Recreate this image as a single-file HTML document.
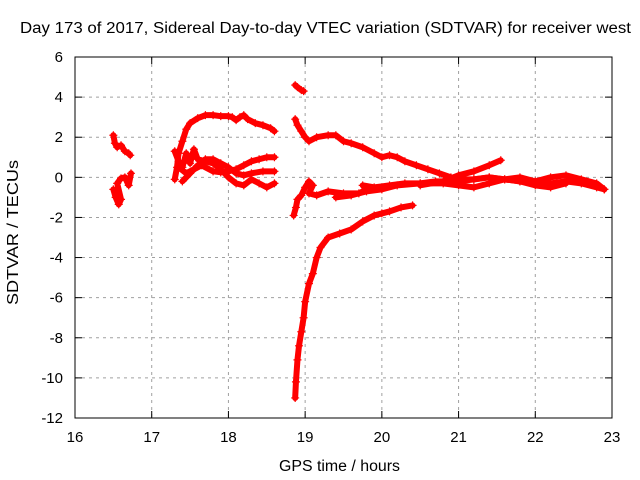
<!DOCTYPE html>
<html><head><meta charset="utf-8"><style>
body{margin:0;background:#fff}
svg{display:block;font-family:"Liberation Sans",sans-serif}
</style></head><body>
<svg id="chart" width="640" height="480" viewBox="0 0 640 480">
<rect width="640" height="480" fill="#fff"/>
<text x="20" y="33" font-size="15.5" textLength="611" lengthAdjust="spacingAndGlyphs" fill="#000">Day 173 of 2017, Sidereal Day-to-day VTEC variation (SDTVAR) for receiver west</text>
<text x="279" y="471" font-size="15.5" textLength="121" lengthAdjust="spacingAndGlyphs">GPS time / hours</text>
<text x="0" y="0" font-size="15.5" textLength="145" lengthAdjust="spacingAndGlyphs" transform="translate(18 305) rotate(-90)">SDTVAR / TECUs</text>
<g id="grid"></g>
<g id="ticks"></g>
<g id="marks"></g>
<rect x="75" y="57" width="537" height="361" fill="none" stroke="#000" stroke-width="1"/>
</svg>
<script>
const xTicks=[16,17,18,19,20,21,22,23];
const yTicks=[6,4,2,0,-2,-4,-6,-8,-10,-12];
const traceA=[[16.5,2.1],[16.52,1.7],[16.55,1.5],[16.6,1.6],[16.65,1.3],[16.7,1.2],[16.72,1.1]];
const traceB=[[16.5,-0.6],[16.53,-1.0],[16.57,-1.35],[16.6,-1.1],[16.55,-0.3],[16.6,-0.05],[16.65,0.0],[16.7,-0.4],[16.73,0.2]];
const traceC=[[17.3,-0.1],[17.33,0.5],[17.35,1.2],[17.4,1.8],[17.45,2.4],[17.5,2.7],[17.6,2.95],[17.7,3.1],[17.8,3.1],[17.9,3.05],[18.0,3.05],[18.05,3.0],[18.1,2.85],[18.15,3.0],[18.2,3.1],[18.25,2.9],[18.35,2.7],[18.45,2.6],[18.55,2.45],[18.6,2.3]];
const traceD=[[17.3,1.3],[17.35,0.8],[17.4,0.5],[17.45,1.2],[17.5,0.7],[17.55,1.4],[17.6,0.9],[17.7,0.8],[17.8,0.7],[17.9,0.4],[18.0,0.0],[18.1,-0.3],[18.2,-0.4],[18.3,-0.1],[18.4,-0.3],[18.5,-0.5],[18.6,-0.3]];
const traceE=[[17.35,0.5],[17.45,0.2],[17.55,0.4],[17.65,0.6],[17.8,0.3],[17.9,0.25],[18.0,0.3],[18.1,0.4],[18.2,0.6],[18.3,0.8],[18.4,0.9],[18.5,1.0],[18.6,1.0]];
const traceF=[[17.4,-0.2],[17.5,0.2],[17.6,0.6],[17.7,0.9],[17.8,0.9],[17.9,0.7],[18.0,0.5],[18.1,0.2],[18.2,0.1],[18.3,0.2],[18.45,0.3],[18.6,0.3]];
const traceG=[[18.87,4.6],[18.9,4.5],[18.95,4.35],[18.98,4.3]];
const traceH=[[18.87,2.9],[18.9,2.6],[18.95,2.3],[19.0,2.0],[19.05,1.8],[19.15,2.0],[19.3,2.1],[19.4,2.1],[19.5,1.8],[19.6,1.7],[19.75,1.5],[19.9,1.2],[20.0,1.0],[20.1,1.1],[20.2,1.0],[20.3,0.8],[20.45,0.6],[20.6,0.4],[20.75,0.2],[20.9,0.0],[21.0,-0.1],[21.2,-0.1],[21.4,0.0],[21.6,-0.1],[21.8,-0.2],[22.0,-0.3],[22.2,-0.3],[22.4,-0.2],[22.6,-0.3],[22.8,-0.5],[22.9,-0.6]];
const traceI=[[18.87,-11],[18.88,-10.2],[18.9,-9.1],[18.92,-8.4],[18.95,-7.7],[18.98,-7.0],[19.0,-6.2],[19.05,-5.3],[19.1,-4.8],[19.15,-4.0],[19.2,-3.5],[19.3,-3.0],[19.45,-2.8],[19.6,-2.6],[19.75,-2.2],[19.9,-1.9],[20.0,-1.8],[20.1,-1.7],[20.25,-1.5],[20.4,-1.4]];
const traceJ=[[18.85,-1.9],[18.88,-1.5],[18.9,-1.1],[18.95,-0.9],[19.0,-0.5],[19.05,-0.2],[19.1,-0.4],[19.05,-0.8],[19.15,-0.9],[19.3,-0.7],[19.5,-0.8],[19.7,-0.8],[19.8,-0.6],[19.75,-0.4],[19.9,-0.5],[20.1,-0.4],[20.3,-0.3],[20.5,-0.3],[20.7,-0.2],[21.0,-0.2],[21.2,-0.1],[21.4,0.0],[21.6,-0.1],[21.8,0.0],[22.0,-0.2],[22.2,0.0],[22.4,0.1],[22.6,-0.1],[22.8,-0.3],[22.9,-0.6]];
const traceK=[[19.4,-1.0],[19.6,-0.9],[19.8,-0.7],[20.0,-0.6],[20.2,-0.4],[20.5,-0.3],[20.8,-0.3],[21.0,-0.4],[21.2,-0.5],[21.4,-0.3],[21.6,-0.1],[21.8,-0.2],[22.0,-0.4],[22.2,-0.5],[22.4,-0.3]];
const traceL=[[20.5,-0.4],[20.8,-0.2],[21.0,0.1],[21.2,0.3],[21.4,0.6],[21.55,0.85]];
const traces=[traceA,traceB,traceC,traceD,traceE,traceF,traceG,traceH,traceI,traceJ,traceK,traceL];

const X0=75,X1=612,Y0=418,Y1=57;
function xs(h){return X0+(h-16)/(23-16)*(X1-X0);}
function ys(v){return Y0-(v+12)/(6+12)*(Y0-Y1);}
const NS="http://www.w3.org/2000/svg";
function mk(t,a,p){const e=document.createElementNS(NS,t);for(const k in a)e.setAttribute(k,a[k]);p.appendChild(e);return e;}
const grid=document.getElementById('grid'),ticks=document.getElementById('ticks'),marks=document.getElementById('marks');
xTicks.forEach(t=>{const x=xs(t);
 if(t>16&&t<23){const g=mk('line',{x1:x,x2:x,y1:Y1,y2:Y0,stroke:'#a0a0a0','stroke-dasharray':'3,4'},grid);
 
 }
 mk('line',{x1:x,x2:x,y1:Y0,y2:Y0-7,stroke:'#000'},ticks);mk('line',{x1:x,x2:x,y1:Y1,y2:Y1+7,stroke:'#000'},ticks);
 const l=mk('text',{x:x,y:Y0+24,'font-size':15,'text-anchor':'middle'},ticks);l.textContent=t;
 
 });
yTicks.forEach(t=>{const y=ys(t);
 if(t>-12&&t<6){const g=mk('line',{x1:X0,x2:X1,y1:y,y2:y,stroke:'#a0a0a0','stroke-dasharray':'3,4'},grid);
 
 }
 mk('line',{x1:X0,x2:X0+7,y1:y,y2:y,stroke:'#000'},ticks);mk('line',{x1:X1,x2:X1-7,y1:y,y2:y,stroke:'#000'},ticks);
 const l=mk('text',{x:X0-12,y:y+5,'font-size':15,'text-anchor':'end'},ticks);l.textContent=t;
 
 });
traces.forEach(tr=>{
 const pl=mk('polyline',{points:tr.map(p=>xs(p[0])+','+ys(p[1])).join(' '),fill:'none',stroke:'#f00','stroke-width':6,'stroke-linejoin':'round','stroke-linecap':'round'},marks);
 
 
 tr.forEach(p=>{const x=xs(p[0]),y=ys(p[1]);
  const m=mk('path',{d:`M${x-4},${y}H${x+4}M${x},${y-4}V${y+4}`,stroke:'#f00','stroke-width':1.2},marks);
  
  });
});
</script>
</body></html>
